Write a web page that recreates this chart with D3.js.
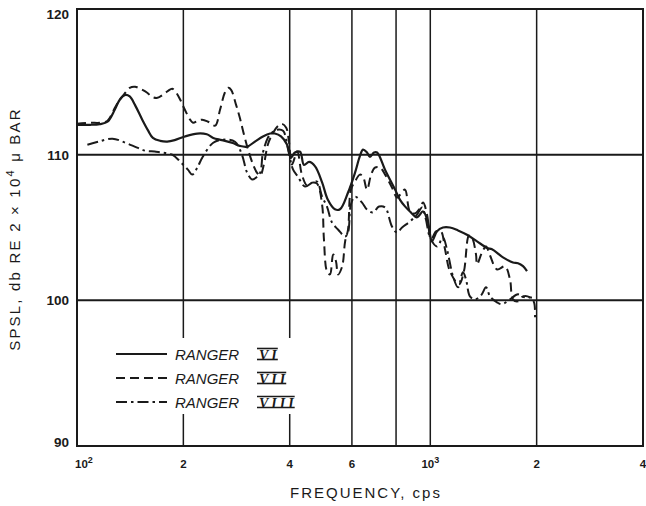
<!DOCTYPE html>
<html>
<head>
<meta charset="utf-8">
<script src="https://cdn.jsdelivr.net/npm/d3@7"></script>
<style>
  html, body { margin: 0; padding: 0; background: #fff; }
  svg { display: block; }
</style>
</head>
<body>
<svg id="chart" width="646" height="506"></svg>
<script>
// ---------- DATA ----------
const seriesNames = ["RANGER", "RANGER", "RANGER"];
const seriesNumerals = ["VI", "VII", "VIII"];

// Ranger VI (solid): [frequency cps, SPSL dB]
const rangerVI = [
  [100,112.05],[109,112.05],[116,112.1],[122,112.26],[128,113.1],[132,113.75],[137,114.1],[141,114.0],
  [146,113.4],[153,112.4],[159,111.65],[164,111.15],[172,110.95],[180,110.9],[189,111.0],[202,111.25],
  [219,111.45],[233,111.4],[243,111.15],[257,111.0],[276,110.8],[289,110.6],[303,110.55],[319,110.9],
  [336,111.25],[352,111.45],[363,111.45],[378,111.25],[393,110.7],[403,109.8],[414,110.15],[428,110.2],
  [439,109.3],[454,109.5],[472,109.2],[494,108.1],[513,106.9],[537,106.25],[555,106.25],[585,107.4],
  [612,108.75],[632,109.9],[645,110.35],[662,110.15],[675,109.85],[693,110.15],[707,110.15],[745,108.95],
  [795,107.6],[821,106.9],[848,106.45],[876,106.1],[917,105.7],[954,106.1],[985,105.35],[1011,104.05],
  [1045,104.75],[1086,105.0],[1137,105.0],[1198,104.8],[1270,104.5],[1356,104.05],[1447,103.6],[1495,103.5],
  [1606,102.95],[1714,102.6],[1771,102.55],[1830,102.35],[1878,102.0]
];

// Ranger VII (dashed)
const rangerVII = [
  [100,112.12],[109,112.19],[116,112.19],[122,112.33],[128,113.22],[132,113.77],[137,114.25],[141,114.59],
  [146,114.66],[151,114.52],[158,114.25],[163,113.97],[169,113.9],[175,114.11],[181,114.38],[186,114.52],
  [191,114.25],[196,113.77],[202,113.08],[209,112.4],[213,112.19],[220,112.33],[226,112.4],[235,112.26],
  [246,111.99],[254,113.08],[262,114.25],[268,114.59],[273,114.45],[282,113.42],[289,112.53],[297,111.37],
  [305,110.34],[315,109.32],[323,108.77],[330,108.56],[338,109.32],[347,110.7],[359,111.51],[371,111.99],
  [380,112.12],[391,111.85],[398,110.89],[406,109.32],[420,110.21],[433,108.63],[448,107.88],[463,108.08],
  [478,108.01],[494,106.58],[500,104.18],[510,101.99],[520,101.78],[531,103.15],[541,102.67],[548,101.78],
  [563,102.33],[574,104.04],[585,104.86],[596,107.6],[612,108.15],[632,108.63],[645,108.49],[662,107.6],
  [680,108.63],[697,109.11],[721,109.11],[745,108.63],[779,107.74],[805,107.05],[826,107.33],[848,107.6],
  [876,106.1],[905,105.96],[929,106.23],[954,106.71],[979,105.89],[1005,104.18],[1038,104.73],[1072,104.73],
  [1101,103.49],[1137,101.99],[1206,101.1],[1245,101.99],[1287,104.45],[1312,104.32],[1347,103.15],[1356,102.47],
  [1401,103.29],[1438,103.7],[1476,103.08],[1545,102.12],[1627,102.33],[1681,101.44],[1714,100.07],[1771,99.93],
  [1830,100.27],[1915,100.2],[1966,99.86],[1979,98.84]
];

// Ranger VIII (dash-dot)
const rangerVIII = [
  [107,110.68],[115,110.89],[126,111.1],[137,110.82],[148,110.48],[156,110.27],[166,110.21],[175,110.14],
  [186,110.0],[196,109.52],[206,108.97],[212,108.63],[219,109.11],[227,109.86],[243,110.82],[259,111.03],
  [280,110.89],[293,110.0],[303,108.77],[313,108.29],[321,108.42],[330,108.77],[336,110.14],[347,111.16],
  [356,111.51],[368,111.71],[383,111.64],[396,110.34],[409,108.97],[422,108.49],[442,107.81],[463,108.08],
  [478,108.15],[494,107.12],[510,106.44],[527,105.34],[548,104.86],[574,104.38],[585,104.66],[596,106.58],
  [612,107.12],[641,106.71],[662,106.23],[688,106.03],[716,106.44],[745,106.37],[779,105.07],[805,104.66],
  [832,105.0],[876,105.41],[917,105.89],[948,106.37],[972,105.55],[998,104.32],[1045,103.7],[1086,104.32],
  [1115,103.49],[1160,101.64],[1198,100.89],[1237,101.92],[1262,101.44],[1295,100.27],[1338,100.07],[1392,100.34],
  [1438,100.89],[1476,100.27],[1545,99.86],[1596,99.73],[1681,100.07],[1771,100.41],[1854,100.2],[1940,100.2]
];

const xDomain = [100, 4000];
const yDomain = [90, 120];
const xTickValues = [100, 200, 400, 600, 1000, 2000, 4000];
const xTickLabels = ["10^2", "2", "4", "6", "10^3", "2", "4"];
const xGridValues = [200, 400, 600, 800, 1000, 2000];
const yTickValues = [90, 100, 110, 120];
const yTickLabels = ["90", "100", "110", "120"];
const yGridValues = [100, 110];
const xTitle = "FREQUENCY,  cps";
const yTitleParts = ["SPSL,  db  RE  2 × 10", "4", "  μ  BAR"];

// ---------- LAYOUT ----------
const L = 77, R = 643, T = 9, B = 446;
const ink = "#1a1a1a";
const svg = d3.select("#chart");
const x = d3.scaleLog().domain(xDomain).range([L, R]);
const y = d3.scaleLinear().domain(yDomain).range([B, T]);

// grid lines
const grid = svg.append("g");
grid.selectAll("line.v").data(xGridValues).join("line")
  .attr("x1", d => x(d)).attr("x2", d => x(d)).attr("y1", T).attr("y2", B)
  .attr("stroke", ink).attr("stroke-width", 1.5);
grid.selectAll("line.h").data(yGridValues).join("line")
  .attr("x1", L).attr("x2", R).attr("y1", d => y(d)).attr("y2", d => y(d))
  .attr("stroke", ink).attr("stroke-width", 2);

// frame
svg.append("rect").attr("x", L).attr("y", T).attr("width", R - L).attr("height", B - T)
  .attr("fill", "none").attr("stroke", ink).attr("stroke-width", 2);

// series
const line = d3.line().x(d => x(d[0])).y(d => y(d[1])).curve(d3.curveCatmullRom.alpha(0.5));
const styles = [
  { data: rangerVI, dash: null, w: 2.2 },
  { data: rangerVII, dash: "9,5", w: 2 },
  { data: rangerVIII, dash: "11,4,2.5,4", w: 2 }
];
const gS = svg.append("g");
styles.forEach(s => {
  gS.append("path").datum(s.data).attr("d", line)
    .attr("fill", "none").attr("stroke", ink).attr("stroke-width", s.w)
    .attr("stroke-linejoin", "round")
    .attr("stroke-dasharray", s.dash);
});

// legend (white background breaks the grid lines)
svg.append("rect").attr("x", 110).attr("y", 338).attr("width", 200).attr("height", 76).attr("fill", "#fff");
const legY = [354, 378, 402];
const leg = svg.append("g");
styles.forEach((s, i) => {
  leg.append("line").attr("x1", 116).attr("x2", 167).attr("y1", legY[i]).attr("y2", legY[i])
    .attr("stroke", ink).attr("stroke-width", 2).attr("stroke-dasharray", s.dash);
  leg.append("text").attr("x", 175).attr("y", legY[i] + 5.5)
    .attr("font-family", "'Liberation Sans', Arial, sans-serif").attr("font-style", "italic")
    .attr("font-size", 15).attr("fill", ink).text(seriesNames[i]);
  const num = leg.append("text").attr("x", 259).attr("y", legY[i] + 5.5)
    .attr("font-family", "'Liberation Serif', serif").attr("font-style", "italic").attr("font-weight", "bold")
    .attr("font-size", 14).attr("letter-spacing", 3).attr("fill", ink).text(seriesNumerals[i]);
  const w = num.node().getComputedTextLength();
  [legY[i] - 5.5, legY[i] + 5.5].forEach(yy => {
    leg.append("line").attr("x1", 257).attr("x2", 257 + w).attr("y1", yy).attr("y2", yy)
      .attr("stroke", ink).attr("stroke-width", 1.6);
  });
});

// y tick labels
svg.append("g").selectAll("text").data(yTickValues).join("text")
  .attr("x", 69).attr("y", (d, i) => y(d) + 5 + (d === 120 ? 5 : 0) + (d === 90 ? -4 : 0))
  .attr("text-anchor", "end")
  .attr("font-family", "'Liberation Sans', Arial, sans-serif").attr("font-weight", "bold")
  .attr("font-size", 13.5).attr("fill", ink)
  .text((d, i) => yTickLabels[i]);

// x tick labels
const xl = svg.append("g");
xTickValues.forEach((v, i) => {
  const parts = xTickLabels[i].split("^");
  const t = xl.append("text")
    .attr("x", i === 0 ? x(v) - 2 : x(v))
    .attr("y", 468)
    .attr("text-anchor", i === 0 ? "start" : "middle")
    .attr("font-family", "'Liberation Sans', Arial, sans-serif").attr("font-weight", "bold")
    .attr("font-size", 11.5).attr("fill", ink);
  t.append("tspan").text(parts[0]);
  if (parts[1]) t.append("tspan").attr("dy", -5).attr("font-size", 9).text(parts[1]);
});

// axis titles
svg.append("text").attr("x", 366).attr("y", 498).attr("text-anchor", "middle")
  .attr("font-family", "'Liberation Sans', Arial, sans-serif").attr("font-size", 15)
  .attr("letter-spacing", 2).attr("fill", ink).text(xTitle);

const yt = svg.append("text").attr("transform", "translate(20,229) rotate(-90)")
  .attr("text-anchor", "middle")
  .attr("font-family", "'Liberation Sans', Arial, sans-serif").attr("font-size", 15)
  .attr("letter-spacing", 2.2).attr("fill", ink);
yt.append("tspan").text(yTitleParts[0]);
yt.append("tspan").attr("dy", -6).attr("font-size", 11).text(yTitleParts[1]);
yt.append("tspan").attr("dy", 6).text(yTitleParts[2]);
</script>
</body>
</html>
